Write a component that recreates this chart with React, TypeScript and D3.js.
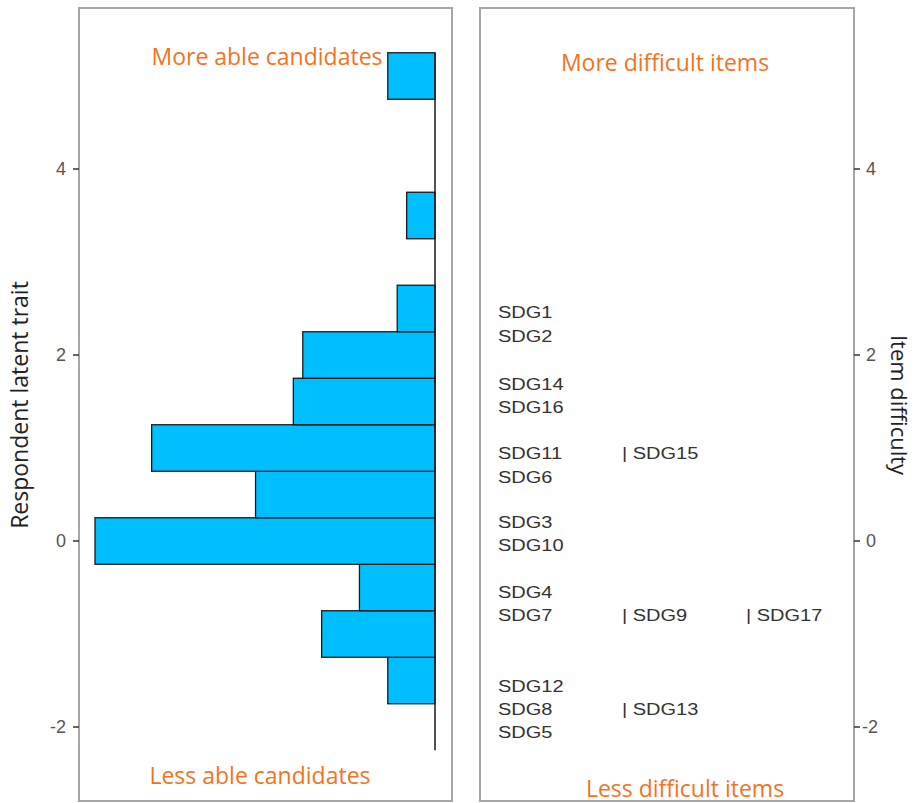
import React from "react";
import * as d3 from "d3";

// Person ability histogram: bins of width 0.5 starting at -2.25
const binStart = -2.25;
const binWidth = 0.5;
const binCounts = [0, 5, 12, 8, 36, 19, 30, 15, 14, 4, 0, 3, 0, 0, 5];

// Item difficulties
const itemNames = ["SDG1", "SDG2", "SDG14", "SDG16", "SDG11", "SDG15", "SDG6", "SDG3", "SDG10", "SDG4", "SDG7", "SDG9", "SDG17", "SDG12", "SDG8", "SDG13", "SDG5"];
const itemDifficulty = [2.46, 2.2, 1.69, 1.44, 0.94, 0.94, 0.69, 0.2, -0.05, -0.55, -0.8, -0.8, -0.8, -1.56, -1.81, -1.81, -2.06];

const yTicks = [-2, 0, 2, 4];
const leftTitle = "Respondent latent trait";
const rightTitle = "Item difficulty";
const annotations = {
  moreAble: "More able candidates",
  lessAble: "Less able candidates",
  moreDiff: "More difficult items",
  lessDiff: "Less difficult items",
};

export default function App() {
  const W = 917, H = 803;
  const y = d3.scaleLinear().domain([0, 4]).range([541, 169]);
  const baseX = 435;
  const x = d3.scaleLinear().domain([0, 36]).range([baseX, 95]);

  const leftBox = { x0: 79, x1: 452, y0: 8, y1: 801 };
  const rightBox = { x0: 480, x1: 854, y0: 8, y1: 801 };
  const frame = "#a6a6a6";
  const orange = "#F2731F";
  const textGray = "#555";

  const bins = binCounts.map((c, i) => ({ lo: binStart + i * binWidth, hi: binStart + (i + 1) * binWidth, c }));
  const lineTop = binStart + binCounts.length * binWidth;

  // columns for tied items
  const seen = new Map<number, number>();
  const items = itemNames.map((n, i) => {
    const d = itemDifficulty[i];
    const col = seen.get(d) ?? 0;
    seen.set(d, col + 1);
    return { n, d, col };
  });
  const colX = [498, 622, 746];

  return (
    <svg width={W} height={H} style={{ display: "block", position: "absolute", left: 0, top: 0 }}>
      <rect x={0} y={0} width={W} height={H} fill="#fff" />
      {/* panel frames */}
      <rect x={leftBox.x0} y={leftBox.y0} width={leftBox.x1 - leftBox.x0} height={leftBox.y1 - leftBox.y0} fill="none" stroke={frame} strokeWidth={2} />
      <rect x={rightBox.x0} y={rightBox.y0} width={rightBox.x1 - rightBox.x0} height={rightBox.y1 - rightBox.y0} fill="none" stroke={frame} strokeWidth={2} />

      {/* histogram */}
      {bins.filter(b => b.c > 0).map((b, i) => (
        <rect key={i} x={x(b.c)} y={y(b.hi)} width={baseX - x(b.c)} height={y(b.lo) - y(b.hi)} fill="#00BFFF" stroke="#1a1a1a" strokeWidth={1.3} />
      ))}
      <line x1={baseX} x2={baseX} y1={y(lineTop)} y2={y(binStart)} stroke="#1a1a1a" strokeWidth={1.5} />

      {/* left axis */}
      {yTicks.map(t => (
        <g key={"l" + t}>
          <line x1={73} x2={79} y1={y(t)} y2={y(t)} stroke="#333" strokeWidth={1.5} />
          <text x={66} y={y(t)} dy="0.36em" textAnchor="end" fontFamily="Liberation Sans, Arial, sans-serif" fontSize={18} fill={textGray}>{t}</text>
        </g>
      ))}
      {/* right axis */}
      {yTicks.map(t => (
        <g key={"r" + t}>
          <line x1={854} x2={860} y1={y(t)} y2={y(t)} stroke="#333" strokeWidth={1.5} />
          <text x={t < 0 ? 862 : 866} y={y(t)} dy="0.36em" textAnchor="start" fontFamily="Liberation Sans, Arial, sans-serif" fontSize={18} fill={textGray}>{t}</text>
        </g>
      ))}

      {/* axis titles */}
      <text transform={`translate(28,405) rotate(-90)`} textAnchor="middle" fontFamily="Open Sans, sans-serif" fontSize={23} fill="#222">{leftTitle}</text>
      <text transform={`translate(891,405) rotate(90)`} textAnchor="middle" fontFamily="Open Sans, sans-serif" fontSize={22} fill="#222">{rightTitle}</text>

      {/* items */}
      {items.map((it, i) => (
        <text key={i} transform={`translate(${colX[it.col]},${y(it.d)}) scale(1.25,1)`} dy="0.36em" fontFamily="Liberation Sans, Arial, sans-serif" fontSize={16} fill="#333">
          {(it.col > 0 ? "| " : "") + it.n}
        </text>
      ))}

      {/* annotations */}
      <text x={267} y={65} textAnchor="middle" fontFamily="Open Sans, sans-serif" fontSize={23} fill={orange}>{annotations.moreAble}</text>
      <text x={260} y={784} textAnchor="middle" fontFamily="Open Sans, sans-serif" fontSize={23} fill={orange}>{annotations.lessAble}</text>
      <text x={665} y={71} textAnchor="middle" fontFamily="Open Sans, sans-serif" fontSize={23} fill={orange}>{annotations.moreDiff}</text>
      <text x={685} y={797} textAnchor="middle" fontFamily="Open Sans, sans-serif" fontSize={23} fill={orange}>{annotations.lessDiff}</text>
    </svg>
  );
}
